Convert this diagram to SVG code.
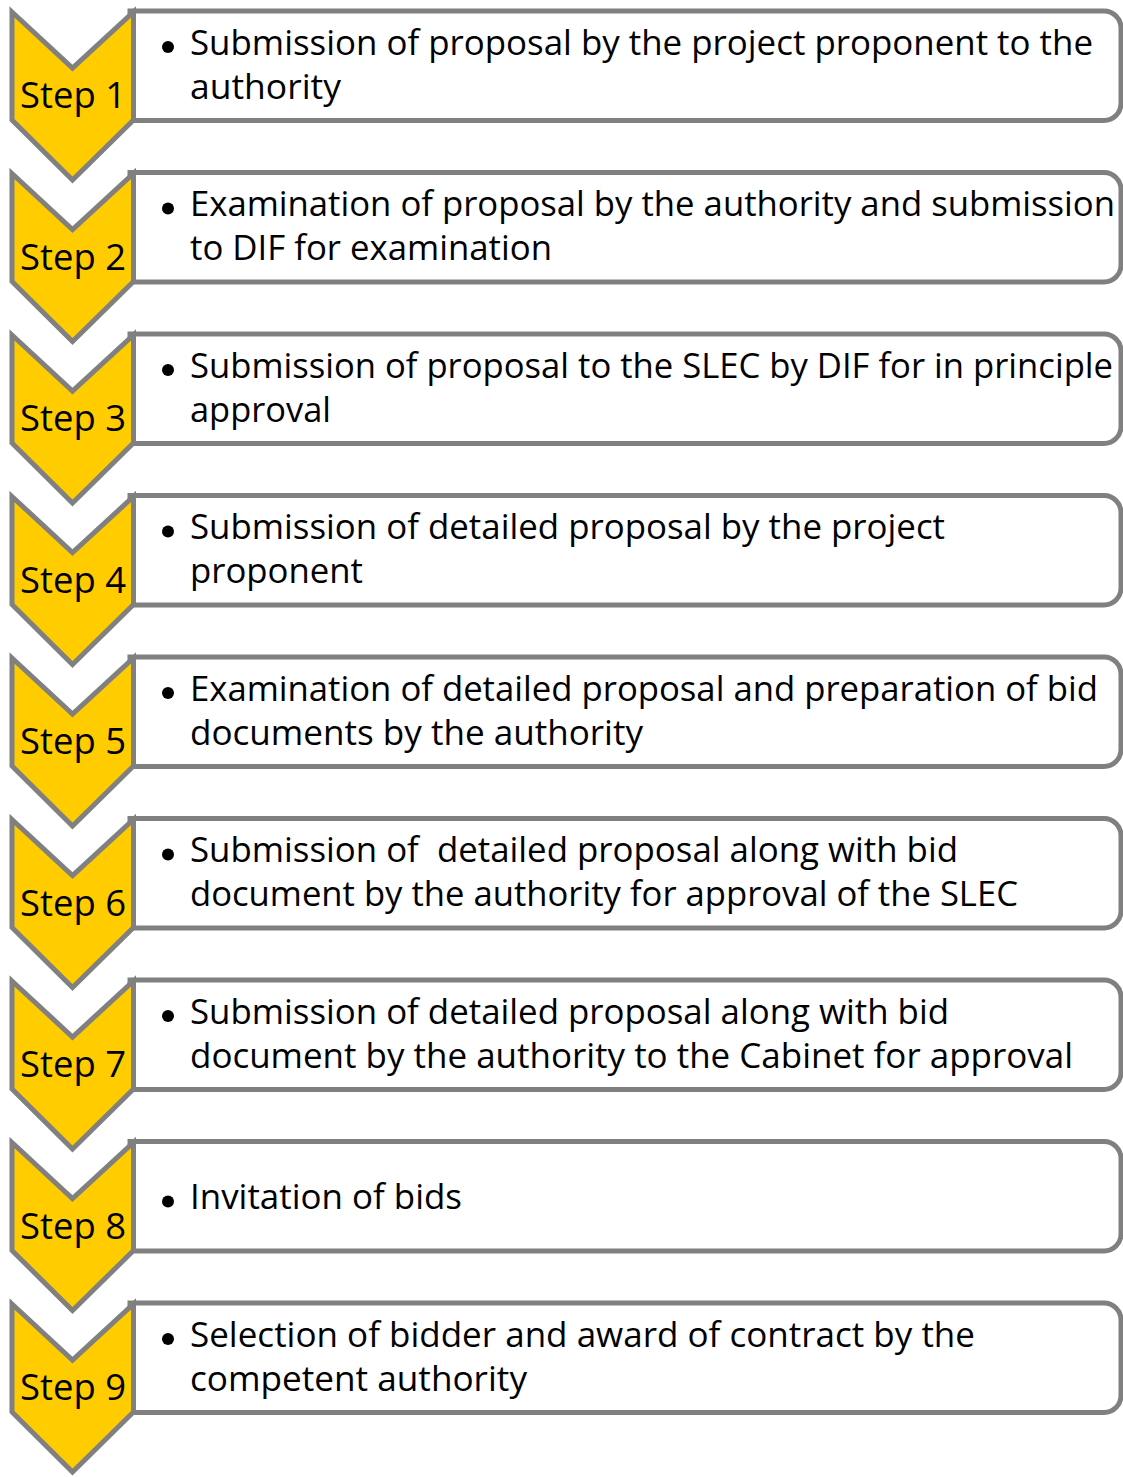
<svg xmlns="http://www.w3.org/2000/svg" width="1123" height="1477" viewBox="0 0 1123 1477">
<defs>
<style>
.box{fill:#fff;stroke:#808080;stroke-width:5}
.chev{fill:#FFCC00;stroke:#808080;stroke-width:5;stroke-linejoin:miter}
.lbl{font-family:"Open Sans","Noto Sans",sans-serif;font-size:36px;fill:#000}
.txt{font-family:"Open Sans","Noto Sans",sans-serif;font-size:34px;fill:#000;white-space:pre}
.bul{fill:#000}
</style>
<path id="boxshape" class="box" d="M130,11 H1104 A17,17 0 0 1 1121,28 V103.5 A17,17 0 0 1 1104,120.5 H130 Z"/>
<polygon id="chevshape" class="chev" points="12,12 72.5,68 133.5,12 133.5,120 72.5,180 12,120"/>
</defs>
<rect width="1123" height="1477" fill="#fff"/>

<g id="step1">
<use href="#boxshape"/><use href="#chevshape"/>
<text class="lbl" x="20" y="108" textLength="106" lengthAdjust="spacingAndGlyphs">Step 1</text>
<circle class="bul" cx="168" cy="47" r="6"/>
<text class="txt" x="190" y="54.5" textLength="903" lengthAdjust="spacingAndGlyphs">Submission of proposal by the project proponent to the</text>
<text class="txt" x="190" y="98.5" textLength="151" lengthAdjust="spacingAndGlyphs">authority</text>
</g>

<g id="step2" transform="translate(0,161.5)">
<use href="#boxshape"/><use href="#chevshape"/>
<text class="lbl" x="20" y="108" textLength="106" lengthAdjust="spacingAndGlyphs">Step 2</text>
<circle class="bul" cx="168" cy="47" r="6"/>
<text class="txt" x="190" y="54.5" textLength="925" lengthAdjust="spacingAndGlyphs">Examination of proposal by the authority and submission</text>
<text class="txt" x="190" y="98.5" textLength="362" lengthAdjust="spacingAndGlyphs">to DIF for examination</text>
</g>

<g id="step3" transform="translate(0,323)">
<use href="#boxshape"/><use href="#chevshape"/>
<text class="lbl" x="20" y="108" textLength="106" lengthAdjust="spacingAndGlyphs">Step 3</text>
<circle class="bul" cx="168" cy="47" r="6"/>
<text class="txt" x="190" y="54.5" textLength="923" lengthAdjust="spacingAndGlyphs">Submission of proposal to the SLEC by DIF for in principle</text>
<text class="txt" x="190" y="98.5" textLength="141" lengthAdjust="spacingAndGlyphs">approval</text>
</g>

<g id="step4" transform="translate(0,484.5)">
<use href="#boxshape"/><use href="#chevshape"/>
<text class="lbl" x="20" y="108" textLength="106" lengthAdjust="spacingAndGlyphs">Step 4</text>
<circle class="bul" cx="168" cy="47" r="6"/>
<text class="txt" x="190" y="54.5" textLength="755" lengthAdjust="spacingAndGlyphs">Submission of detailed proposal by the project</text>
<text class="txt" x="190" y="98.5" textLength="173" lengthAdjust="spacingAndGlyphs">proponent</text>
</g>

<g id="step5" transform="translate(0,646)">
<use href="#boxshape"/><use href="#chevshape"/>
<text class="lbl" x="20" y="108" textLength="106" lengthAdjust="spacingAndGlyphs">Step 5</text>
<circle class="bul" cx="168" cy="47" r="6"/>
<text class="txt" x="190" y="54.5" textLength="908" lengthAdjust="spacingAndGlyphs">Examination of detailed proposal and preparation of bid</text>
<text class="txt" x="190" y="98.5" textLength="453" lengthAdjust="spacingAndGlyphs">documents by the authority</text>
</g>

<g id="step6" transform="translate(0,807.5)">
<use href="#boxshape"/><use href="#chevshape"/>
<text class="lbl" x="20" y="108" textLength="106" lengthAdjust="spacingAndGlyphs">Step 6</text>
<circle class="bul" cx="168" cy="47" r="6"/>
<text class="txt" x="190" y="54.5" textLength="768" lengthAdjust="spacingAndGlyphs">Submission of  detailed proposal along with bid</text>
<text class="txt" x="190" y="98.5" textLength="828" lengthAdjust="spacingAndGlyphs">document by the authority for approval of the SLEC</text>
</g>

<g id="step7" transform="translate(0,969)">
<use href="#boxshape"/><use href="#chevshape"/>
<text class="lbl" x="20" y="108" textLength="106" lengthAdjust="spacingAndGlyphs">Step 7</text>
<circle class="bul" cx="168" cy="47" r="6"/>
<text class="txt" x="190" y="54.5" textLength="759" lengthAdjust="spacingAndGlyphs">Submission of detailed proposal along with bid</text>
<text class="txt" x="190" y="98.5" textLength="883" lengthAdjust="spacingAndGlyphs">document by the authority to the Cabinet for approval</text>
</g>

<g id="step8" transform="translate(0,1130.5)">
<use href="#boxshape"/><use href="#chevshape"/>
<text class="lbl" x="20" y="108" textLength="106" lengthAdjust="spacingAndGlyphs">Step 8</text>
<circle class="bul" cx="168" cy="71" r="6"/>
<text class="txt" x="190" y="78.5" textLength="272" lengthAdjust="spacingAndGlyphs">Invitation of bids</text>
</g>

<g id="step9" transform="translate(0,1292)">
<use href="#boxshape"/><use href="#chevshape"/>
<text class="lbl" x="20" y="108" textLength="106" lengthAdjust="spacingAndGlyphs">Step 9</text>
<circle class="bul" cx="168" cy="47" r="6"/>
<text class="txt" x="190" y="54.5" textLength="785" lengthAdjust="spacingAndGlyphs">Selection of bidder and award of contract by the</text>
<text class="txt" x="190" y="98.5" textLength="337" lengthAdjust="spacingAndGlyphs">competent authority</text>
</g>
</svg>
